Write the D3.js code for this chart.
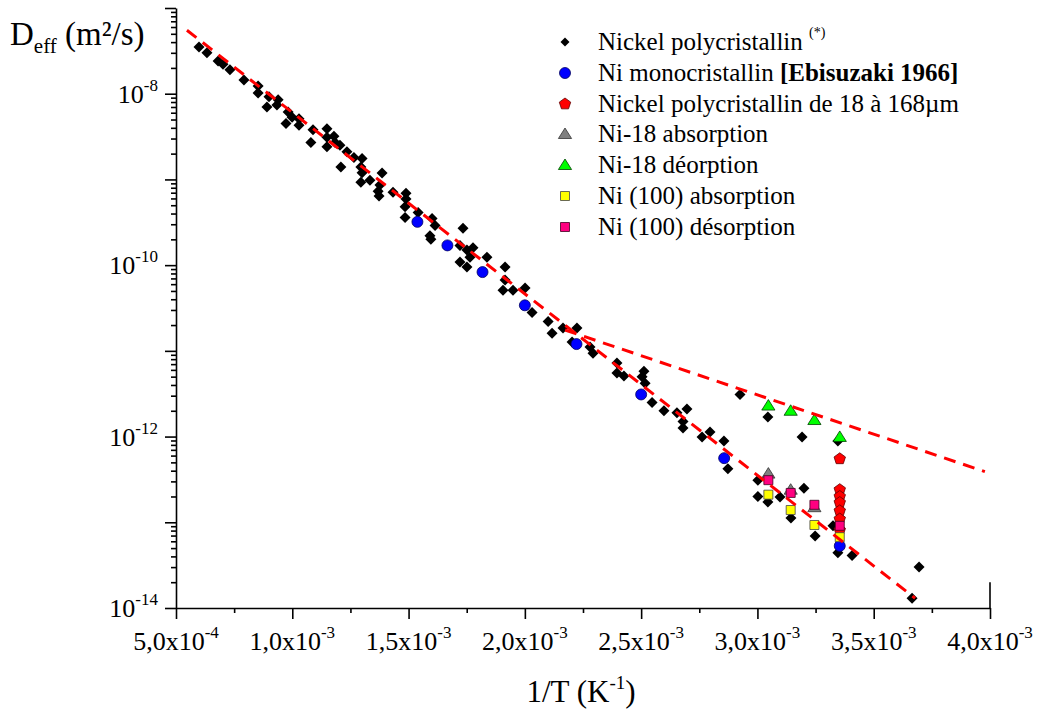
<!DOCTYPE html>
<html>
<head>
<meta charset="utf-8">
<script src="https://cdn.jsdelivr.net/npm/d3@7"></script>
<style>
  body { margin: 0; background: #fff; }
  svg text { font-family: "Liberation Serif", "Times New Roman", serif; fill: #000; }
</style>
</head>
<body>
<svg id="chart" width="1039" height="727"></svg>
<script>
// ---------- DATA (1/T in K^-1, D in m²/s) ----------
const polyX = [0.599e-3,0.633e-3,0.681e-3,0.702e-3,0.732e-3,0.792e-3,0.853e-3,0.853e-3,0.900e-3,0.891e-3,
  0.934e-3,0.939e-3,0.982e-3,0.999e-3,0.973e-3,1.029e-3,1.029e-3,1.089e-3,1.080e-3,1.149e-3,
  1.149e-3,1.149e-3,1.179e-3,1.184e-3,1.205e-3,1.209e-3,1.235e-3,1.265e-3,1.300e-3,1.295e-3,
  1.300e-3,1.295e-3,1.334e-3,1.386e-3,1.377e-3,1.369e-3,1.373e-3,1.433e-3,1.489e-3,1.489e-3,
  1.485e-3,1.485e-3,1.541e-3,1.601e-3,1.614e-3,1.592e-3,1.596e-3,1.734e-3,1.721e-3,1.751e-3,
  1.777e-3,1.721e-3,1.751e-3,1.764e-3,1.837e-3,1.915e-3,1.915e-3,1.906e-3,1.949e-3,2.001e-3,
  2.031e-3,2.100e-3,2.117e-3,2.164e-3,2.224e-3,2.203e-3,2.280e-3,2.293e-3,2.396e-3,2.396e-3,
  2.426e-3,2.512e-3,2.504e-3,2.517e-3,2.547e-3,2.598e-3,2.654e-3,2.697e-3,2.680e-3,2.680e-3,
  2.762e-3,2.796e-3,2.856e-3,2.873e-3,2.925e-3,3.002e-3,3.002e-3,3.045e-3,3.045e-3,3.097e-3,
  3.144e-3,3.200e-3,3.192e-3,3.248e-3,3.346e-3,3.325e-3,3.346e-3,3.407e-3,3.695e-3,3.665e-3];
const polyD = [3.5e-8,3.0e-8,2.4e-8,2.2e-8,1.9e-8,1.45e-8,1.23e-8,1.02e-8,9.2e-9,7.0e-9,
  7.4e-9,8.5e-9,6.1e-9,5.3e-9,4.5e-9,5.1e-9,4.3e-9,3.8e-9,2.7e-9,3.9e-9,
  3.1e-9,2.4e-9,3.2e-9,2.7e-9,2.5e-9,1.4e-9,2.1e-9,1.8e-9,1.75e-9,1.4e-9,
  1.2e-9,9.3e-10,9.8e-10,1.19e-9,8.6e-10,7.3e-10,6.4e-10,7.1e-10,6.9e-10,5.9e-10,
  4.8e-10,3.6e-10,4.1e-10,3.5e-10,2.9e-10,2.2e-10,2.0e-10,2.7e-10,1.7e-10,1.5e-10,
  1.6e-10,1.09e-10,9.5e-11,1.24e-10,1.24e-10,9.5e-11,6.7e-11,5.1e-11,5.1e-11,5.4e-11,
  2.8e-11,2.2e-11,1.6e-11,1.85e-11,1.85e-11,1.27e-11,1.11e-11,9.4e-12,7.2e-12,5.5e-12,
  5.1e-12,5.8e-12,5.0e-12,4.2e-12,2.5e-12,2.0e-12,1.9e-12,2.1e-12,1.5e-12,1.26e-12,
  9.9e-13,1.13e-12,8.9e-13,4.2e-13,3.1e-12,3.1e-13,2.0e-13,1.69e-12,1.73e-13,1.97e-13,
  1.12e-13,2.5e-13,9.9e-13,6.9e-14,8.9e-13,9.1e-14,4.4e-14,4.1e-14,3.0e-14,1.3e-14];

const monoX = [1.538e-3,1.667e-3,1.818e-3,2.000e-3,2.222e-3,2.500e-3,2.857e-3,3.354e-3];
const monoD = [3.2e-10,1.7e-10,8.3e-11,3.4e-11,1.2e-11,3.1e-12,5.6e-13,5.3e-14];

const grainX = [3.354e-3,3.354e-3,3.354e-3,3.354e-3,3.354e-3,3.354e-3,3.354e-3];
const grainD = [5.5e-13,2.4e-13,2.0e-13,1.7e-13,1.36e-13,1.09e-13,8.1e-14];

const ni18AbsX = [3.047e-3,3.143e-3,3.245e-3];
const ni18AbsD = [3.7e-13,2.4e-13,1.5e-13];

const ni18DesX = [3.047e-3,3.143e-3,3.245e-3,3.354e-3];
const ni18DesD = [2.3e-12,2.0e-12,1.56e-12,9.9e-13];

const ni100AbsX = [3.047e-3,3.143e-3,3.245e-3,3.354e-3];
const ni100AbsD = [2.1e-13,1.39e-13,9.3e-14,6.7e-14];

const ni100DesX = [3.047e-3,3.143e-3,3.245e-3,3.354e-3];
const ni100DesD = [3.1e-13,2.2e-13,1.6e-13,9.1e-14];

const fit1X = [0.547e-3, 3.678e-3];
const fit1D = [5.5e-8, 1.3e-14];
const fit2X = [2.173e-3, 3.978e-3];
const fit2D = [1.75e-11, 3.9e-13];

const xTicks = [0.5e-3,1.0e-3,1.5e-3,2.0e-3,2.5e-3,3.0e-3,3.5e-3,4.0e-3];
const xTickMant = ["5,0","1,0","1,5","2,0","2,5","3,0","3,5","4,0"];
const xTickExp = ["-4","-3","-3","-3","-3","-3","-3","-3"];
const xMinor = [0.75e-3,1.25e-3,1.75e-3,2.25e-3,2.75e-3,3.25e-3,3.75e-3];

const yLabelTicks = [1e-8,1e-10,1e-12,1e-14];
const yLabelExp = ["-8","-10","-12","-14"];

// ---------- CHART ----------
const svg = d3.select("#chart");
const x = d3.scaleLinear().domain([0.5e-3, 4.0e-3]).range([176, 990]);
const y = d3.scaleLog().domain([1e-14, 1e-7]).range([608, 8]);

const decades = d3.range(-14, -6).map(e => Math.pow(10, e));
const yMinor = [];
for (let e = -14; e < -7; e++) for (let m = 2; m <= 9; m++) yMinor.push(m * Math.pow(10, e));

// axes
const gx = svg.append("g").attr("transform", "translate(0,608)");
gx.call(d3.axisBottom(x).tickValues(xTicks).tickSize(11).tickSizeOuter(0).tickFormat(""));
gx.append("g").call(d3.axisBottom(x).tickValues(xMinor).tickSize(5).tickSizeOuter(0).tickFormat(""))
  .select(".domain").remove();
gx.selectAll("path,line").attr("stroke", "#000").attr("stroke-width", 1.6);
// short right edge stub at end of x axis
svg.append("line").attr("x1", x(4.0e-3)).attr("x2", x(4.0e-3)).attr("y1", y(2e-14)).attr("y2", y(1e-14))
  .attr("stroke", "#000").attr("stroke-width", 1.6);

const gy = svg.append("g").attr("transform", "translate(176,0)");
gy.call(d3.axisLeft(y).tickValues(decades).tickSize(11).tickSizeOuter(0).tickFormat(""));
gy.append("g").call(d3.axisLeft(y).tickValues(yMinor).tickSize(5).tickSizeOuter(0).tickFormat(""))
  .select(".domain").remove();
gy.selectAll("path,line").attr("stroke", "#000").attr("stroke-width", 1.6);

// tick labels
xTicks.forEach((v, i) => {
  const t = svg.append("text").attr("x", x(v)).attr("y", 650)
    .attr("text-anchor", "middle").style("font-size", "26px");
  t.append("tspan").text(xTickMant[i] + "x10");
  t.append("tspan").attr("dy", -12).style("font-size", "17px").text(xTickExp[i]);
});
yLabelTicks.forEach((v, i) => {
  const t = svg.append("text").attr("x", 158).attr("y", y(v) + 9)
    .attr("text-anchor", "end").style("font-size", "26px");
  t.append("tspan").text("10");
  t.append("tspan").attr("dy", -12).style("font-size", "17px").text(yLabelExp[i]);
});

// axis titles
const yt = svg.append("text").attr("x", 10).attr("y", 45).style("font-size", "33px");
yt.append("tspan").text("D");
yt.append("tspan").attr("dy", 8).style("font-size", "21px").text("eff");
yt.append("tspan").attr("dy", -8).text(" (m²/s)");

const xt = svg.append("text").attr("x", 581).attr("y", 702).attr("text-anchor", "middle").style("font-size", "31px");
xt.append("tspan").text("1/T (K");
xt.append("tspan").attr("dy", -13).style("font-size", "19px").text("-1");
xt.append("tspan").attr("dy", 13).text(")");

// markers
const diamond = s => `M0,${-s}L${s},0L0,${s}L${-s},0Z`;
const tri = s => `M0,${-s}L${s*1.1},${s*0.75}L${-s*1.1},${s*0.75}Z`;
const square = s => `M${-s},${-s}H${s}V${s}H${-s}Z`;
const pent = s => d3.range(5).map(k => { const a = -Math.PI/2 + k*2*Math.PI/5; return (k?"L":"M") + (s*Math.cos(a)).toFixed(2) + "," + (s*Math.sin(a)).toFixed(2); }).join("") + "Z";

function plot(xs, ds, pathD, fill, stroke, sw) {
  svg.append("g").selectAll("path").data(xs).join("path")
    .attr("d", pathD)
    .attr("transform", (d, i) => `translate(${x(d)},${y(ds[i])})`)
    .attr("fill", fill).attr("stroke", stroke).attr("stroke-width", sw);
}
plot(polyX, polyD, diamond(5.5), "#000", "none", 0);
plot(monoX, monoD, d3.symbol(d3.symbolCircle, Math.PI*5.5*5.5)(), "#0000ff", "#000060", 0.8);
plot(grainX, grainD, pent(6), "#ff0000", "#600000", 0.8);
plot(ni18AbsX, ni18AbsD, tri(6), "#808080", "#333", 0.8);
plot(ni18DesX, ni18DesD, tri(6), "#00ff00", "#004000", 0.8);
plot(ni100AbsX, ni100AbsD, square(4.5), "#ffff00", "#444", 0.8);
plot(ni100DesX, ni100DesD, square(4.5), "#ff0080", "#400020", 0.8);

// fit lines
const line = d3.line().x(d => x(d[0])).y(d => y(d[1]));
[[fit1X, fit1D], [fit2X, fit2D]].forEach(([fx, fd]) => {
  svg.append("path").attr("d", line(fx.map((v, i) => [v, fd[i]])))
    .attr("fill", "none").attr("stroke", "#ff0000").attr("stroke-width", 3)
    .attr("stroke-dasharray", "12,8");
});

// legend
const legRows = [
  {sym: diamond(4.5), fill: "#000", stroke: "none"},
  {sym: d3.symbol(d3.symbolCircle, Math.PI*5.5*5.5)(), fill: "#0000ff", stroke: "#000060"},
  {sym: pent(6), fill: "#ff0000", stroke: "#600000"},
  {sym: tri(6), fill: "#808080", stroke: "#333"},
  {sym: tri(6), fill: "#00ff00", stroke: "#004000"},
  {sym: square(4.5), fill: "#ffff00", stroke: "#444"},
  {sym: square(4.5), fill: "#ff0080", stroke: "#400020"}
];
const legY = [42, 73, 104, 134, 165, 196, 227];
legRows.forEach((r, i) => {
  svg.append("path").attr("d", r.sym).attr("transform", `translate(565,${legY[i]})`)
    .attr("fill", r.fill).attr("stroke", r.stroke).attr("stroke-width", 0.8);
});
const legText = (i) => svg.append("text").attr("x", 598).attr("y", legY[i] + 8).style("font-size", "25px");
let t0 = legText(0); t0.append("tspan").text("Nickel polycristallin ");
t0.append("tspan").attr("dy", -13).style("font-size", "14px").text("(*)");
let t1 = legText(1); t1.append("tspan").text("Ni monocristallin ");
t1.append("tspan").style("font-weight", "bold").text("[Ebisuzaki 1966]");
legText(2).text("Nickel polycristallin de 18 à 168µm");
legText(3).text("Ni-18 absorption");
legText(4).text("Ni-18 déorption");
legText(5).text("Ni (100) absorption");
legText(6).text("Ni (100) désorption");
</script>
</body>
</html>
